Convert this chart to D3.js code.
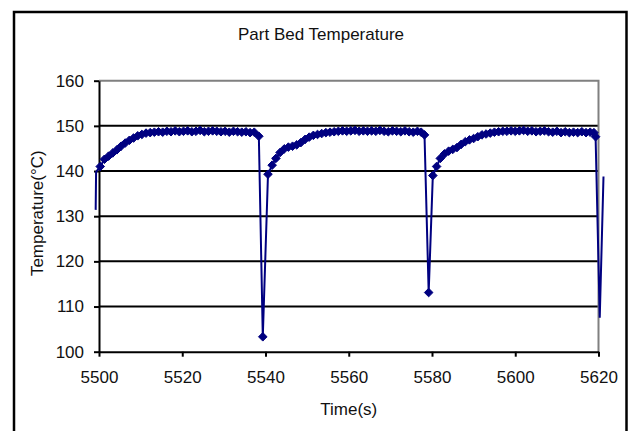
<!DOCTYPE html>
<html>
<head>
<meta charset="utf-8">
<script src="https://cdn.jsdelivr.net/npm/d3@7"></script>
<style>
  body { margin: 0; background: #fff; }
  svg text { font-family: 'Liberation Sans', Arial, sans-serif; fill: #111; }
</style>
</head>
<body>
<svg id="chart" width="628" height="431"></svg>
<script>
const chartTitle = 'Part Bed Temperature';
const xTitle = 'Time(s)';
const yTitle = 'Temperature(°C)';
const xTicks = [5500, 5520, 5540, 5560, 5580, 5600, 5620];
const yTicks = [100, 110, 120, 130, 140, 150, 160];

// time (s), roughly one sample per second
const times = [
  5499.2, 5499.3, 5500.3, 5501.3, 5502.3, 5503.3, 5504.3, 5505.3, 5506.3, 5507.3, 5508.3, 5509.3,
  5510.3, 5511.3, 5512.3, 5513.3, 5514.3, 5515.3, 5516.3, 5517.3, 5518.3, 5519.3,
  5520.3, 5521.3, 5522.3, 5523.3, 5524.3, 5525.3, 5526.3, 5527.3, 5528.3, 5529.3,
  5530.3, 5531.3, 5532.3, 5533.3, 5534.3, 5535.3, 5536.3, 5537.3,
  5538.4, 5539.35, 5540.6, 5541.6, 5542.5, 5543.5, 5544.5, 5545.5, 5546.5, 5547.5,
  5548.5, 5549.5, 5550.5, 5551.5, 5552.5, 5553.5, 5554.5, 5555.5, 5556.5, 5557.5,
  5558.5, 5559.5, 5560.5, 5561.5, 5562.5, 5563.5, 5564.5, 5565.5, 5566.5, 5567.5,
  5568.5, 5569.5, 5570.5, 5571.5, 5572.5, 5573.5, 5574.5, 5575.5, 5576.5, 5577.4,
  5578.2, 5579.2, 5580.2, 5581.1, 5582.0, 5583.0, 5584.0, 5585.0, 5586.0, 5587.0,
  5588.0, 5589.0, 5590.0, 5591.0, 5592.0, 5593.0, 5594.0, 5595.0, 5596.0, 5597.0,
  5598.0, 5599.0, 5600.0, 5601.0, 5602.0, 5603.0, 5604.0, 5605.0, 5606.0, 5607.0,
  5608.0, 5609.0, 5610.0, 5611.0, 5612.0, 5613.0, 5614.0, 5615.0, 5616.0, 5617.0,
  5618.0, 5618.9, 5619.3, 5620.3, 5621.2,
];

// bed temperature (°C)
const temps = [
  131.4, 139.8, 141.0, 142.6, 143.3, 144.0, 144.7, 145.5, 146.2, 146.8, 147.3, 147.8,
  148.1, 148.4, 148.5, 148.6, 148.7, 148.6, 148.8, 148.7, 148.9, 148.7,
  148.8, 148.9, 148.7, 148.8, 149.0, 148.7, 148.8, 148.9, 148.8, 148.7,
  148.8, 148.6, 148.8, 148.7, 148.6, 148.7, 148.5, 148.6,
  147.7, 103.3, 139.3, 141.3, 142.8, 144.1, 144.9, 145.3, 145.5, 145.8,
  146.3, 147.0, 147.5, 147.9, 148.1, 148.3, 148.5, 148.6, 148.7, 148.8,
  148.9, 148.8, 148.9, 149.0, 148.8, 148.9, 148.8, 148.9, 148.8, 149.0,
  148.8, 148.7, 148.9, 148.8, 148.7, 148.9, 148.7, 148.6, 148.8, 148.6,
  148.0, 113.1, 139.0, 141.0, 142.8, 143.8, 144.4, 144.8, 145.2, 145.9,
  146.5, 146.9, 147.2, 147.6, 148.0, 148.2, 148.4, 148.6, 148.7, 148.8,
  148.8, 148.9, 148.8, 148.9, 149.0, 148.8, 148.9, 148.7, 148.8, 148.9,
  148.7, 148.6, 148.8, 148.5, 148.7, 148.5, 148.6, 148.5, 148.7, 148.5,
  148.6, 148.5, 147.6, 107.5, 138.8,
];

const data = times.map((t, i) => ({ t, v: temps[i] }));

const plot = { left: 99, right: 598.5, top: 80.7, bottom: 351.7 };
const svg = d3.select('#chart');

// outer chart frame
svg.append('rect')
  .attr('x', 14)
  .attr('y', 12)
  .attr('width', 612.5)
  .attr('height', 440)
  .attr('fill', '#fff')
  .attr('stroke', '#000')
  .attr('stroke-width', 2.5);

const xScale = d3.scaleLinear()
  .domain([5500, 5620])
  .range([plot.left, plot.right]);
const yScale = d3.scaleLinear()
  .domain([100, 160])
  .range([plot.bottom, plot.top]);

// black gridlines
svg.append('g')
  .selectAll('line')
  .data(yTicks.filter(d => d > 100 && d < 160))
  .enter()
  .append('line')
  .attr('x1', plot.left)
  .attr('x2', plot.right)
  .attr('y1', d => yScale(d))
  .attr('y2', d => yScale(d))
  .attr('stroke', '#000')
  .attr('stroke-width', 2);

// grey plot-area border (top and right)
svg.append('path')
  .attr('d', `M${plot.left},${yScale(160)}H${plot.right}V${plot.bottom}`)
  .attr('fill', 'none')
  .attr('stroke', '#808080')
  .attr('stroke-width', 2);

const yAxis = d3.axisLeft(yScale)
  .tickValues(yTicks)
  .tickSize(5)
  .tickSizeOuter(0)
  .tickPadding(10);
const xAxis = d3.axisBottom(xScale)
  .tickValues(xTicks)
  .tickFormat(d3.format('d'))
  .tickSize(5)
  .tickSizeOuter(0)
  .tickPadding(14);

const gY = svg.append('g')
  .attr('transform', `translate(${plot.left},0)`)
  .call(yAxis);
const gX = svg.append('g')
  .attr('transform', `translate(0,${plot.bottom})`)
  .call(xAxis);

[gX, gY].forEach((g) => {
  g.selectAll('path.domain').attr('stroke', '#000').attr('stroke-width', 2);
  g.selectAll('.tick line').attr('stroke', '#000').attr('stroke-width', 2);
  g.selectAll('.tick text')
    .attr('fill', '#111')
    .style('font-size', '17px')
    .style('font-family', "'Liberation Sans', Arial, sans-serif");
});

// series
const createLine = d3.line()
  .x(d => xScale(d.t))
  .y(d => yScale(d.v));

svg.append('path')
  .datum(data)
  .attr('fill', 'none')
  .attr('stroke', '#000080')
  .attr('stroke-width', 2)
  .attr('stroke-linejoin', 'miter')
  .attr('d', createLine);

const diamond = 'M0,-4.3L4.3,0L0,4.3L-4.3,0Z';
svg.append('g')
  .selectAll('path')
  .data(data.filter(d => d.t >= 5500 && d.t <= 5620))
  .enter()
  .append('path')
  .attr('d', diamond)
  .attr('transform', d => `translate(${xScale(d.t)},${yScale(d.v)})`)
  .attr('fill', '#000080')
  .attr('stroke', '#000080')
  .attr('stroke-width', 1);

// titles
svg.append('text')
  .attr('x', 321)
  .attr('y', 40)
  .attr('text-anchor', 'middle')
  .style('font-size', '17px')
  .text(chartTitle);

svg.append('text')
  .attr('x', (plot.left + plot.right) / 2)
  .attr('y', 415)
  .attr('text-anchor', 'middle')
  .style('font-size', '17px')
  .text(xTitle);

svg.append('g')
  .attr('transform', `translate(43,${(plot.top + plot.bottom) / 2 - 3}) rotate(270)`)
  .append('text')
  .attr('text-anchor', 'middle')
  .style('font-size', '17px')
  .text(yTitle);
</script>
</body>
</html>
